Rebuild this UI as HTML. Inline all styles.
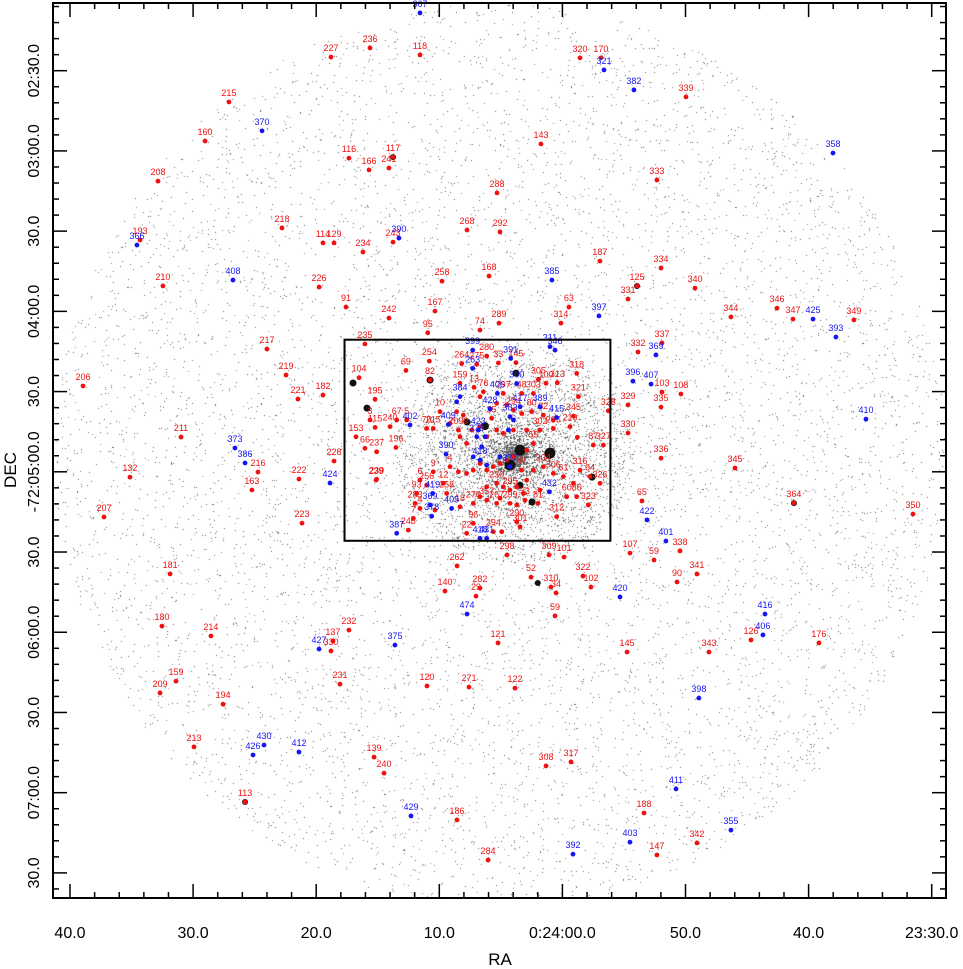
<!DOCTYPE html>
<html><head><meta charset="utf-8">
<style>
html,body{margin:0;padding:0;background:#fff;}
#wrap{position:relative;width:963px;height:969px;overflow:hidden;font-family:"Liberation Sans",sans-serif;}
canvas,svg{position:absolute;left:0;top:0;}
</style></head>
<body>
<div id="wrap">
<canvas id="field" width="963" height="969"></canvas>
<svg id="plot" width="963" height="969" xmlns="http://www.w3.org/2000/svg"></svg>
</div>
<script>
// RA in seconds relative to 0:24:00 (negative = 23:59:xx etc.), Dec in arcsec below -72:00:00
const xTickVals=[40,30,20,10,0,-10,-20,-30];
const xTickLabels=["40.0","30.0","20.0","10.0","0:24:00.0","50.0","40.0","23:30.0"];
const yTickVals=[150,180,210,240,270,300,330,360,390,420,450];
const yTickLabels=["02:30.0","03:00.0","30.0","04:00.0","30.0","-72:05:00.0","30.0","06:00.0","30.0","07:00.0","30.0"];

const redLabels=["236","227","118","320","170","339","215","160","116","117","166","241","143","333","208","288","218","114","129","234","243","268","292","193","187","334","125","331","340","210","226","258","168","63","91","242","167","289","74","314","344","346","347","349","217","332","337","219","221","182","108","103","335","329","206","211","330","336","345","132","216","222","163","228","239","207","223","65","364","350","107","59","338","341","90","181","101","309","298","262","322","102","52","310","34","140","282","29","59","180","214","232","137","330","145","121","126","176","343","209","159","231","120","271","122","194","213","139","240","308","317","113","186","188","342","147","284",
"235","95","254","69","104","82","264","275","280","33","145","305","100","313","318","76","13","159","195","3","115","153","66","237","239","67","240","5","70","215","196","10","","","","","35","","","294","","80","82","","345","302","205","219","","87","327","328","321","303","48","297","","","2099","","","","","","","","55","","","","","","","","","","","4","9","256","6","93","283","4","","7","246","12","258","18","276","","","230","","295","","47","","","304","306","61","","316","64","326","86","323","81","53","","299","","267","357","96","22","294","","290","301","312","60","",""];
const redRA=[15.63,18.80,11.57,-1.43,-3.13,-10.04,27.09,29.03,17.34,13.76,15.71,14.09,1.74,-7.68,32.85,5.31,22.78,19.45,18.55,16.20,13.76,7.75,5.07,34.31,-3.05,-8.01,-6.06,-5.33,-10.77,32.45,19.77,9.78,5.96,-0.53,17.58,14.09,10.35,5.15,6.70,0.12,-13.69,-17.43,-18.73,-23.68,24.0,-6.14,-8.09,22.45,21.48,19.45,-9.63,-8.09,-8.01,-5.33,38.94,30.98,-5.33,-8.01,-14.02,35.13,24.73,21.40,25.22,18.55,15.14,37.24,21.15,-6.46,-18.81,-28.48,-5.49,-7.44,-9.55,-10.93,-9.31,31.87,-0.13,1.09,4.50,8.56,-1.67,-2.32,2.55,0.93,0.52,9.54,6.70,7.02,0.60,32.53,28.55,17.34,18.64,18.80,-5.25,5.23,-15.32,-20.84,-11.91,32.69,31.39,18.07,11.0,7.59,3.85,27.57,29.93,15.30,14.49,1.33,-0.70,25.78,8.56,-6.63,-10.93,-7.68,6.04,
16.04,10.94,10.81,12.71,16.52,10.75,8.18,6.96,6.15,5.20,3.77,1.95,1.33,0.41,-1.16,6.42,7.18,8.32,15.22,15.63,15.22,16.77,16.04,15.09,15.09,13.46,14.00,12.65,11.03,10.49,13.52,9.94,9.13,8.05,7.37,6.69,5.75,5.34,4.53,3.98,3.31,2.50,1.55,0.74,-0.89,1.82,0.74,-0.62,-1.21,-2.51,-3.33,-3.73,-1.30,2.36,3.31,4.80,6.69,8.59,8.45,8.32,7.78,6.15,5.34,4.80,3.98,2.90,2.36,2.90,3.98,4.53,5.07,5.61,6.15,6.69,7.24,7.78,8.45,9.13,10.49,11.03,11.57,11.84,11.97,11.57,10.35,12.11,12.52,9.67,9.40,8.32,7.24,6.69,6.15,5.34,4.80,4.26,3.71,3.31,2.90,2.36,1.55,0.74,-0.08,-0.89,-1.43,-2.24,-3.06,-1.16,-2.11,1.98,3.04,3.71,4.26,5.07,5.34,6.15,7.24,7.78,5.61,4.93,3.71,3.44,0.47,-0.35,1.82,3.17];
const redDec=[141.5,144.9,144.1,145.2,145.2,159.8,161.7,176.3,182.7,182.3,187.1,186.4,177.4,190.9,191.3,195.7,208.8,214.4,214.4,217.8,214.1,209.6,210.3,213.3,221.2,223.8,230.5,235.4,231.3,230.5,230.9,228.7,226.8,238.4,238.4,242.5,239.9,244.4,247.0,244.4,242.1,238.8,242.9,243.2,254.1,255.2,251.8,263.8,272.8,271.3,270.9,270.2,275.8,275.0,267.9,287.0,285.5,294.9,298.6,302.0,300.1,302.7,306.8,296.0,303.1,316.9,319.2,310.9,311.7,315.8,330.4,333.0,329.6,338.2,341.2,338.2,331.9,331.1,331.1,335.2,339.0,343.1,339.4,343.1,345.3,344.6,343.5,346.5,353.9,357.7,361.4,359.2,363.3,367.0,367.4,364.0,362.9,364.0,367.4,382.7,378.3,379.4,380.1,380.5,380.9,386.9,402.9,406.7,412.7,410.0,408.5,423.5,430.2,427.6,438.8,443.3,445.2,
252.2,248.0,258.6,262.1,264.8,265.7,259.5,259.8,256.7,259.3,259.2,265.4,266.9,266.7,263.2,270.1,268.4,266.9,272.9,280.6,283.4,286.9,291.2,292.5,302.8,280.6,283.1,280.6,283.8,283.8,290.9,277.5,281.9,278.8,284.4,283.1,280.0,274.4,275.0,276.9,278.2,277.5,278.8,280.6,279.2,284.4,283.8,283.1,287.1,290.0,290.0,277.2,271.9,270.7,270.7,270.7,271.9,277.5,284.4,286.9,289.4,286.9,284.4,285.6,284.4,284.4,289.4,291.9,294.4,295.6,296.9,298.1,299.4,296.9,299.4,300.6,300.0,298.1,300.0,305.0,303.1,308.1,311.8,313.7,314.3,317.4,321.8,304.3,308.1,313.1,311.8,309.3,305.6,304.3,305.6,306.8,305.6,299.4,303.1,299.4,298.1,300.6,301.8,304.3,299.4,301.8,304.3,309.3,312.4,311.8,310.6,312.4,311.8,309.9,311.8,310.6,319.3,323.0,322.4,322.4,318.7,320.6,316.8,309.3,306.8,308.1];

const blueLabels=["367","321","382","370","358","390","366","408","385","397","425","393","369","396","407","410","373","386","424","422","401","420","416","406","427","375","474","398","430","426","412","411","429","355","403","392",
"399","263","391","360","406","428","417","389","415","383","","","384","","409","402","390","","379","423","","","418","","377","","419","369","378","405","387","418","431","432","311","346"];
const blueRA=[11.57,-3.38,-5.81,24.40,-21.98,13.28,34.56,26.76,0.85,-2.97,-20.36,-22.22,-7.60,-5.73,-7.20,-24.66,26.60,25.78,18.88,-6.87,-8.41,-4.68,-16.46,-16.29,19.77,13.60,7.75,-11.09,24.24,25.13,21.40,-9.23,12.30,-13.69,-5.49,-0.86,
7.29,7.29,4.20,3.71,5.28,5.88,3.44,1.82,0.47,4.26,3.98,4.39,8.32,8.59,9.27,12.38,9.45,6.56,6.96,6.83,6.28,7.24,6.69,6.15,4.26,5.07,10.54,10.75,10.62,9.00,13.46,6.69,6.15,1.06,1.01,0.60];
const blueDec=[128.4,149.7,157.2,172.5,180.8,212.6,215.2,228.3,228.3,241.7,242.9,249.6,256.3,266.1,267.2,280.3,291.1,296.7,304.2,318.0,325.9,346.8,353.2,361.0,366.3,364.8,353.2,384.6,402.2,405.9,404.8,418.6,428.7,434.0,438.5,443.0,
254.5,261.3,257.6,267.0,270.7,276.5,275.7,275.7,279.7,279.4,280.6,284.4,271.9,273.8,282.3,282.5,293.4,290.6,286.9,284.4,286.9,294.4,295.6,297.5,298.1,294.4,308.1,312.4,316.6,313.7,323.0,324.9,324.9,307.5,253.2,254.5];

const starRA=[3.44,1.01,4.26,6.29,15.87,17.01,10.75,3.44,2.47,-2.41,3.77,7.75,13.76,-6.06,2.0,-18.81,25.78];
const starDec=[291.9,293.0,297.5,282.9,276.2,266.8,265.7,305.0,311.3,302.0,263.1,281.4,182.3,230.5,341.6,311.7,423.5];
const starSize=[5.5,5.5,5.5,4,3.5,3.5,3.5,3.5,3.5,3.5,3.5,3.5,3,3,3,3,3];

// box (region) in data units
const boxRA=[17.7,-3.9];
const boxDec=[250.6,325.8];

// axis functions
const X0=70, PXS=12.31;
function xs(s){return X0+(40-s)*PXS;}
function ys(d){return 70.7+(d-150)*80.22/30;}

// ---------- star-field texture (seeded) ----------
(function(){
  const c=document.getElementById('field').getContext('2d');
  let seed=12345;
  function rnd(){seed=(seed*1103515245+12345)&0x7fffffff;return seed/0x7fffffff;}
  const cx=500,cy=455,R=452;
  c.fillStyle='rgba(100,100,100,0.8)';
  for(let i=0;i<80000;i++){
    const a=rnd()*Math.PI*2, r=Math.sqrt(rnd())*R;
    const x=cx+Math.cos(a)*r*0.985, y=cy+Math.sin(a)*r;
    if(x<54||x>945||y<3||y>896) continue;
    c.fillRect(Math.round(x),Math.round(y),1,1);
  }
  const kx=515,ky=455;
  for(let i=0;i<20000;i++){
    const a=rnd()*Math.PI*2, r=Math.pow(rnd(),1.5)*120;
    c.fillRect(Math.round(kx+Math.cos(a)*r),Math.round(ky+Math.sin(a)*r*0.9),1,1);
  }
})();

// ---------- SVG ----------
const svg=document.getElementById('plot');
const NS='http://www.w3.org/2000/svg';
function mk(tag,attrs,parent){const e=document.createElementNS(NS,tag);for(const k in attrs)e.setAttribute(k,attrs[k]);(parent||svg).appendChild(e);return e;}
const L=53,R=946,T=3,B=898;

// bright stars
const gStars=mk('g',{});


for(let i=0;i<starRA.length;i++){
  const e=mk('circle',{cx:xs(starRA[i]),cy:ys(starDec[i]),r:starSize[i],fill:'#111'},gStars);
  
  
}

function drawSeries(ras,decs,labels,color,name){
  const g=mk('g',{});
  
  
  for(let i=0;i<ras.length;i++){
    const x=xs(ras[i]),y=ys(decs[i]);
    const c=mk('circle',{cx:x,cy:y,r:2.4,fill:color},g);
    
    
    if(labels[i]){
      const t=mk('text',{x:x,y:y-6,'text-anchor':'middle','font-size':'9',fill:color,'font-family':'Liberation Sans, sans-serif'},g);
      t.textContent=labels[i];
      
      
    }
  }
}
drawSeries(redRA,redDec,redLabels,'#f01010','red');
drawSeries(blueRA,blueDec,blueLabels,'#1515f5','blue');

// region box
const bx=mk('rect',{x:xs(boxRA[0]),y:ys(boxDec[0]),width:xs(boxRA[1])-xs(boxRA[0]),height:ys(boxDec[1])-ys(boxDec[0]),fill:'none',stroke:'#000','stroke-width':2});



// frame
const fr=mk('rect',{x:L,y:T,width:R-L,height:B-T,fill:'none',stroke:'#000','stroke-width':2});



// ticks
const gT=mk('g',{stroke:'#000','stroke-width':1.5});


for(let s=40;s>=-31;s-=2){
  const x=xs(s); if(x<L+1||x>R-1) continue;
  const len=(s%10===0)?14:6;
  mk('line',{x1:x,y1:B,x2:x,y2:B-len},gT);
  mk('line',{x1:x,y1:T,x2:x,y2:T+len},gT);
}
for(let d=126;d<=456;d+=6){
  const y=ys(d); if(y<T+1||y>B-1) continue;
  const len=(d%30===0)?14:6;
  mk('line',{x1:L,y1:y,x2:L+len,y2:y},gT);
  mk('line',{x1:R,y1:y,x2:R-len,y2:y},gT);
}
// tick labels
const gX=mk('g',{});


for(let i=0;i<xTickVals.length;i++){
  const t=mk('text',{x:xs(xTickVals[i]),y:938,'text-anchor':'middle','font-size':'16',fill:'#000'},gX);
  t.textContent=xTickLabels[i];
  
  
}
const gY=mk('g',{});


for(let i=0;i<yTickVals.length;i++){
  const y=ys(yTickVals[i]);
  const t=mk('text',{x:0,y:0,transform:'translate(39,'+y+') rotate(-90)','text-anchor':'middle','font-size':'16',fill:'#000'},gY);
  t.textContent=yTickLabels[i];
  
  
}
const xt=mk('text',{x:500,y:965,'text-anchor':'middle','font-size':'17',fill:'#000'});
xt.textContent='RA';


const yt=mk('text',{x:0,y:0,transform:'translate(16,470) rotate(-90)','text-anchor':'middle','font-size':'17',fill:'#000'});
yt.textContent='DEC';


</script>
</body></html>
